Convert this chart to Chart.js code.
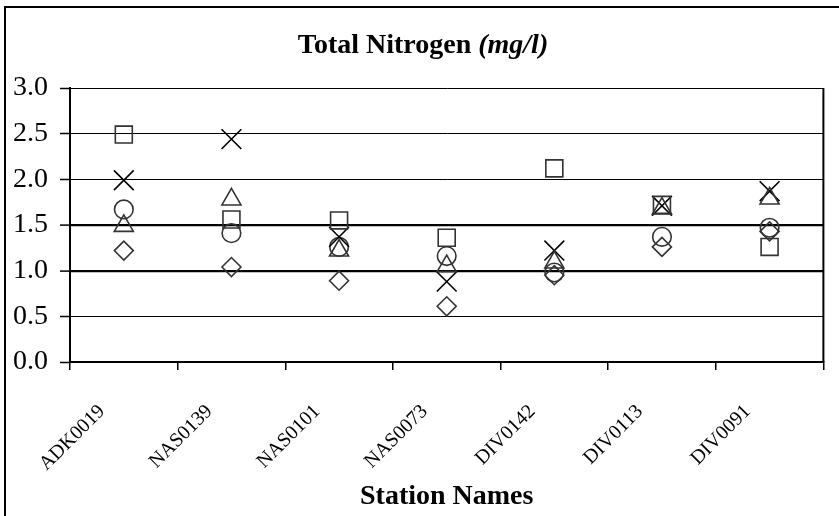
<!DOCTYPE html>
<html>
<head>
<meta charset="utf-8">
<title>Total Nitrogen (mg/l)</title>
<script src="https://cdn.jsdelivr.net/npm/chart.js@4/dist/chart.umd.min.js"></script>
<style>
    html, body { margin: 0; padding: 0; background: #ffffff; }
    #wrap { width: 839px; height: 516px; }
</style>
</head>
<body>
<div id="wrap"><canvas id="tnChart" width="839" height="516" aria-label="Total Nitrogen (mg/l) by station"></canvas></div>
<script>
// Station names along the x axis
const stations = ['ADK0019', 'NAS0139', 'NAS0101', 'NAS0073', 'DIV0142', 'DIV0113', 'DIV0091'];

// one series per marker shape (mg/l)
const diamondSeries = [1.22, 1.04, 0.89, 0.61, 0.95, 1.26, 1.43];
const squareSeries = [2.49, 1.56, 1.55, 1.36, 2.12, 1.72, 1.26];
const triangleSeries = [1.49, 1.78, 1.22, 1.05, 1.09, 1.68, 1.79];
const crossSeries = [1.99, 2.44, 1.37, 0.88, 1.22, 1.71, 1.87];
const circleSeries = [1.67, 1.41, 1.26, 1.16, 0.98, 1.37, 1.47];

// y axis ticks
const yTicks = [0, 0.5, 1, 1.5, 2, 2.5, 3];
const heavyLines = [1, 1.5];

const SERIF = '"Liberation Serif", "Times New Roman", serif';

function markerSet(label, values, style, radius, color) {
    return {
        label: label,
        data: values,
        showLine: false,
        pointStyle: style,
        pointRadius: radius,
        pointHoverRadius: radius,
        pointBorderColor: color,
        pointBackgroundColor: 'rgba(0, 0, 0, 0)',
        pointBorderWidth: 1.6,
        borderColor: color
    };
}

// outer frame of the chart object
const framePlugin = {
    id: 'frame',
    beforeDraw(chart) {
        const ctx = chart.ctx;
        ctx.save();
        ctx.strokeStyle = '#000';
        ctx.lineWidth = 2;
        ctx.strokeRect(5, 7, 900, 600);
        ctx.restore();
    }
};

// right edge of the plot box
const plotBoxPlugin = {
    id: 'plotBox',
    beforeDatasetsDraw(chart) {
        const a = chart.chartArea;
        const ctx = chart.ctx;
        ctx.save();
        ctx.strokeStyle = '#000';
        ctx.lineWidth = 2;
        ctx.beginPath();
        ctx.moveTo(a.right, a.top);
        ctx.lineTo(a.right, a.bottom);
        ctx.stroke();
        ctx.restore();
    }
};

// title with the italic unit part
const titlePlugin = {
    id: 'mixedTitle',
    afterDraw(chart) {
        const ctx = chart.ctx;
        const part1 = 'Total Nitrogen ';
        const part2 = '(mg/l)';
        ctx.save();
        ctx.fillStyle = '#000';
        ctx.textBaseline = 'middle';
        ctx.font = 'bold 28px ' + SERIF;
        const w1 = ctx.measureText(part1).width;
        ctx.font = 'italic bold 28px ' + SERIF;
        const w2 = ctx.measureText(part2).width;
        const x0 = 423 - (w1 + w2) / 2;
        ctx.font = 'bold 28px ' + SERIF;
        ctx.fillText(part1, x0, 46);
        ctx.font = 'italic bold 28px ' + SERIF;
        ctx.fillText(part2, x0 + w1, 46);
        ctx.restore();
    }
};

const ctx = document.getElementById('tnChart').getContext('2d');

new Chart(ctx, {
    type: 'line',
    data: {
        labels: stations,
        datasets: [
            markerSet('Series 1', diamondSeries, 'rectRot', 9.5, '#333333'),
            markerSet('Series 2', squareSeries, 'rect', 12, '#333333'),
            markerSet('Series 3', triangleSeries, 'triangle', 11, '#333333'),
            markerSet('Series 4', crossSeries, 'crossRot', 14, '#000000'),
            markerSet('Series 5', circleSeries, 'circle', 9.3, '#333333')
        ]
    },
    options: {
        responsive: false,
        animation: false,
        layout: {
            padding: { top: 88, right: 7, bottom: 0, left: 0 }
        },
        plugins: {
            legend: { display: false },
            title: { display: false },
            tooltip: { enabled: false }
        },
        scales: {
            x: {
                offset: true,
                afterFit: function(scale) { scale.height = 154; },
                grid: {
                    offset: true,
                    drawOnChartArea: false,
                    drawTicks: true,
                    tickLength: 8,
                    color: '#000',
                    lineWidth: 1.5
                },
                border: { display: true, color: '#000', width: 2 },
                ticks: {
                    minRotation: 45,
                    maxRotation: 45,
                    autoSkip: false,
                    padding: 30,
                    labelOffset: -22,
                    color: '#000',
                    font: { family: SERIF, size: 20 }
                },
                title: {
                    display: true,
                    text: 'Station Names',
                    color: '#000',
                    font: { family: SERIF, size: 28, weight: 'bold' },
                    padding: { top: 0, bottom: 2 }
                }
            },
            y: {
                min: 0,
                max: 3,
                afterFit: function(scale) { scale.width = 70; },
                afterBuildTicks: function(scale) {
                    scale.ticks = yTicks.map(v => ({ value: v }));
                },
                grid: {
                    color: '#000',
                    lineWidth: function(c) {
                        return (c.tick && heavyLines.includes(c.tick.value)) ? 2.2 : 1;
                    },
                    tickWidth: 1.5,
                    tickLength: 10
                },
                border: { display: true, color: '#000', width: 2 },
                ticks: {
                    padding: 12,
                    color: '#000',
                    font: { family: SERIF, size: 28 },
                    callback: function(v) { return Number(v).toFixed(1); }
                }
            }
        }
    },
    plugins: [framePlugin, plotBoxPlugin, titlePlugin]
});
</script>
</body>
</html>
